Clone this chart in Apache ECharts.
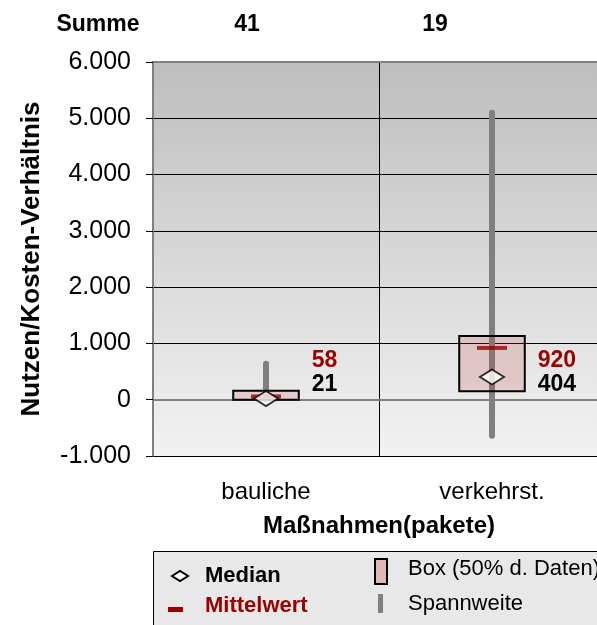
<!DOCTYPE html>
<html>
<head>
<meta charset="utf-8">
<script src="https://cdn.jsdelivr.net/npm/echarts@6/dist/echarts.min.js"></script>
<style>
    html, body { margin: 0; padding: 0; background: #fff; overflow: hidden; }
    /* das Diagramm ist rechts abgeschnitten, daher etwas breiter als das Fenster */
    #chart { width: 605px; height: 625px; }
</style>
</head>
<body>
<div id="chart"></div>
<script>
// Werte
const categories = ['bauliche', 'verkehrst.'];
const counts = [41, 19];
const rangeMin = [0, -640];
const rangeMax = [640, 5100];
const boxLow = [0, 150];
const boxHigh = [160, 1130];
const means = [58, 920];
const medians = [21, 404];
const yMin = -1000;
const yMax = 6000;
const yStep = 1000;

const FONT = "'Liberation Sans', Arial, sans-serif";
const DARKRED = '#990000';

function fmt(v) {
    const s = String(Math.abs(v)).replace(/\B(?=(\d{3})+(?!\d))/g, '.');
    return (v < 0 ? '-' : '') + s;
}

function txt(x, y, text, opts) {
    opts = opts || {};
    return {
        type: 'text',
        x: x, y: y,
        style: {
            text: text,
            font: (opts.bold ? 'bold ' : '') + (opts.size || 22) + 'px ' + FONT,
            fill: opts.color || '#000',
            align: opts.align || 'left',
            textAlign: opts.align || 'left',
            verticalAlign: 'middle',
            textVerticalAlign: 'middle'
        },
        z: 10
    };
}

let chartDom = document.getElementById('chart');
let myChart = echarts.init(chartDom);
let option;

const wiskerData = categories.map((c, i) => [i, rangeMin[i], rangeMax[i]]);
const boxData = categories.map((c, i) => [i, boxLow[i], boxHigh[i]]);
const labelData = categories.map((c, i) => [i, means[i], medians[i]]);

option = {
    animation: false,
    grid: {
        left: 153,
        top: 62,
        right: 0,
        bottom: 169,
        show: true,
        borderWidth: 0,
        backgroundColor: new echarts.graphic.LinearGradient(0, 0, 0, 1, [
            { offset: 0, color: '#bebebe' },
            { offset: 1, color: '#f2f2f2' }
        ])
    },
    xAxis: [
        {
            type: 'category',
            data: categories,
            boundaryGap: true,
            axisLine: { lineStyle: { color: '#808080', width: 2 } },
            axisTick: { show: false },
            splitLine: { show: true, lineStyle: { color: '#000', width: 1 } },
            axisLabel: { color: '#000', fontSize: 24, fontFamily: FONT, margin: 24 },
            name: 'Maßnahmen(pakete)',
            nameLocation: 'middle',
            nameGap: 58,
            nameTextStyle: { color: '#000', fontSize: 24, fontWeight: 'bold', fontFamily: FONT }
        },
        {
            type: 'category',
            data: categories,
            position: 'top',
            axisLine: { lineStyle: { color: '#808080', width: 2 } },
            axisTick: { show: false },
            axisLabel: { show: false },
            splitLine: { show: false }
        }
    ],
    yAxis: {
        type: 'value',
        min: yMin,
        max: yMax,
        interval: yStep,
        axisLine: { show: true, lineStyle: { color: '#808080', width: 2 } },
        axisTick: { show: true, length: 7, lineStyle: { color: '#000' } },
        splitLine: { show: true, lineStyle: { color: '#000', width: 1 } },
        axisLabel: {
            color: '#000', fontSize: 25, fontFamily: FONT, margin: 22,
            formatter: fmt
        },
        name: 'Nutzen/Kosten-Verhältnis',
        nameLocation: 'middle',
        nameRotate: 90,
        nameGap: 108,
        nameTextStyle: { color: '#000', fontSize: 26, fontWeight: 'bold', fontFamily: FONT }
    },
    series: [
        {
            name: 'Spannweite',
            type: 'custom',
            data: wiskerData,
            encode: { x: 0, y: [1, 2] },
            z: 2,
            renderItem: function (params, api) {
                const a = api.coord([api.value(0), api.value(1)]);
                const b = api.coord([api.value(0), api.value(2)]);
                return {
                    type: 'line',
                    shape: { x1: a[0], y1: a[1], x2: b[0], y2: b[1] },
                    style: { stroke: '#808080', lineWidth: 6, lineCap: 'round' }
                };
            }
        },
        {
            name: 'Box (50% d. Daten)',
            type: 'custom',
            data: boxData,
            encode: { x: 0, y: [1, 2] },
            z: 3,
            renderItem: function (params, api) {
                const lo = api.coord([api.value(0), api.value(1)]);
                const hi = api.coord([api.value(0), api.value(2)]);
                const w = api.size([1, 0])[0] * 0.29;
                return {
                    type: 'rect',
                    shape: { x: lo[0] - w / 2, y: hi[1], width: w, height: lo[1] - hi[1] },
                    style: { fill: 'rgba(200,70,70,0.2)', stroke: '#000', lineWidth: 2 }
                };
            }
        },
        {
            name: 'Mittelwert',
            type: 'scatter',
            data: categories.map((c, i) => [i, means[i]]),
            symbol: 'rect',
            symbolSize: [30, 4],
            itemStyle: { color: DARKRED },
            z: 4
        },
        {
            name: 'Median',
            type: 'scatter',
            data: categories.map((c, i) => [i, medians[i]]),
            symbol: 'diamond',
            symbolSize: [24, 15],
            itemStyle: { color: '#fff', borderColor: '#000', borderWidth: 2 },
            z: 5
        },
        {
            name: 'labels',
            type: 'custom',
            data: labelData,
            encode: { x: 0, y: [1, 2] },
            z: 6,
            renderItem: function (params, api) {
                const base = api.coord([api.value(0), 0]);
                const w = api.size([1, 0])[0] * 0.29;
                const x = base[0] + w / 2 + 13;
                return {
                    type: 'group',
                    children: [
                        txt(x, base[1] - 39, String(api.value(1)), { bold: true, color: DARKRED, size: 23 }),
                        txt(x, base[1] - 15, String(api.value(2)), { bold: true, size: 23 })
                    ]
                };
            }
        }
    ],
    graphic: [
        txt(98, 25, 'Summe', { bold: true, align: 'center', size: 23 }),
        txt(247, 25, String(counts[0]), { bold: true, align: 'center', size: 23 }),
        txt(435, 25, String(counts[1]), { bold: true, align: 'center', size: 23 }),
        // Legende
        {
            type: 'rect',
            shape: { x: 153.5, y: 551.5, width: 460, height: 90 },
            style: { fill: '#e8e8e8', stroke: '#000', lineWidth: 1 },
            z: 1
        },
        {
            type: 'polygon',
            shape: { points: [[172, 576], [180, 571], [188, 576], [180, 581]] },
            style: { fill: '#fff', stroke: '#000', lineWidth: 2 },
            z: 10
        },
        txt(205, 576, 'Median', { bold: true }),
        {
            type: 'rect',
            shape: { x: 168, y: 607, width: 15, height: 5 },
            style: { fill: DARKRED },
            z: 10
        },
        txt(205, 606, 'Mittelwert', { bold: true, color: DARKRED }),
        {
            type: 'rect',
            shape: { x: 375, y: 559, width: 12, height: 25 },
            style: { fill: '#e2b8b8', stroke: '#000', lineWidth: 2 },
            z: 10
        },
        txt(408, 569, 'Box (50% d. Daten)'),
        {
            type: 'rect',
            shape: { x: 378, y: 594, width: 5, height: 19 },
            style: { fill: '#808080' },
            z: 10
        },
        txt(408, 604, 'Spannweite')
    ]
};

option && myChart.setOption(option);
</script>
</body>
</html>
